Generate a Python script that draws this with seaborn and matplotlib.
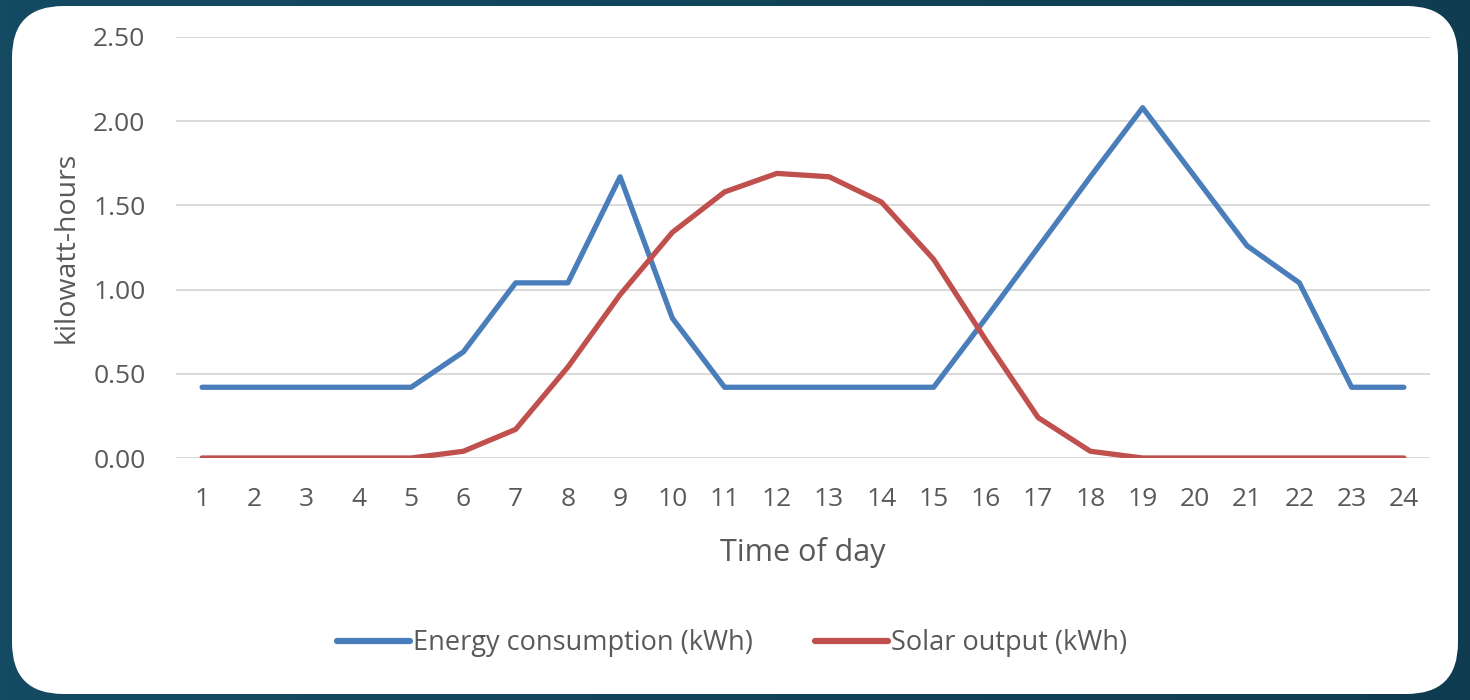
import numpy as np
import pandas as pd
import matplotlib.pyplot as plt
import seaborn as sns
from matplotlib.patches import FancyBboxPatch

# Data
hours = list(range(1, 25))
consumption = [0.42, 0.42, 0.42, 0.42, 0.42, 0.63, 1.04, 1.04, 1.67, 0.83,
               0.42, 0.42, 0.42, 0.42, 0.42, 0.83, 1.25, 1.67, 2.08, 1.67,
               1.26, 1.04, 0.42, 0.42]
solar = [0.0, 0.0, 0.0, 0.0, 0.0, 0.04, 0.17, 0.54, 0.97, 1.34,
         1.58, 1.69, 1.67, 1.52, 1.18, 0.70, 0.24, 0.04, 0.0, 0.0,
         0.0, 0.0, 0.0, 0.0]
series_names = ["Energy consumption (kWh)", "Solar output (kWh)"]
y_ticks = [0.0, 0.5, 1.0, 1.5, 2.0, 2.5]

df = pd.DataFrame({"hour": hours * 2,
                   "kwh": consumption + solar,
                   "series": [series_names[0]] * 24 + [series_names[1]] * 24})

sns.set_theme(style="white")
plt.rcParams['font.family'] = ['Open Sans', 'DejaVu Sans']
text_color = "#595959"
colors = {series_names[0]: "#4a7ebb", series_names[1]: "#c0504d"}

fig = plt.figure(figsize=(14.7, 7), dpi=100)

# dark teal background with a soft gradient
bg = fig.add_axes([0, 0, 1, 1], zorder=-2)
grad = np.linspace(0, 1, 256).reshape(1, -1)
bg.imshow(grad, aspect='auto', extent=[0, 1, 0, 1],
          cmap=sns.blend_palette(["#144b63", "#0f3c50"], as_cmap=True))
bg.set_xlim(0, 1)
bg.set_ylim(0, 1)
bg.axis('off')

# white rounded panel
panel = FancyBboxPatch((12 / 1470, 6 / 700), 1446 / 1470, 688 / 700,
                       boxstyle="round,pad=0,rounding_size=0.035",
                       transform=fig.transFigure, facecolor="white",
                       edgecolor="none", mutation_aspect=1470 / 700, zorder=-1)
fig.patches.append(panel)

ax = fig.add_axes([176 / 1470, 242 / 700, 1254 / 1470, 421 / 700])
ax.set_facecolor("none")

sns.lineplot(data=df, x="hour", y="kwh", hue="series", palette=colors,
             linewidth=3.8, ax=ax, legend=False, solid_capstyle='round')

ax.set_xlim(0.5, 24.5)
ax.set_ylim(0, 2.5)
ax.set_xticks(hours)
ax.set_yticks(y_ticks)
ax.set_yticklabels([f"{v:.2f}" for v in y_ticks])
ax.tick_params(axis='both', colors=text_color, labelsize=19, length=0)
ax.tick_params(axis='x', pad=21)
ax.tick_params(axis='y', pad=22)
ax.yaxis.grid(True, color="#d9d9d9", linewidth=1.4)
ax.set_axisbelow(True)
for s in ax.spines.values():
    s.set_visible(False)

ax.set_xlabel("Time of day", fontsize=22, color=text_color, labelpad=18)
ax.set_ylabel("kilowatt-hours", fontsize=20.5, color=text_color, labelpad=9)

handles = [plt.Line2D([0], [0], color=colors[n], linewidth=4.5, solid_capstyle='round')
           for n in series_names]
fig.legend(handles, series_names, loc='center', bbox_to_anchor=(732 / 1470, 57 / 700),
           ncol=2, frameon=False, fontsize=19.5, handlelength=2.7, handletextpad=0.1,
           columnspacing=2.3, labelcolor=text_color)

fig.savefig("out.png", dpi=100)
